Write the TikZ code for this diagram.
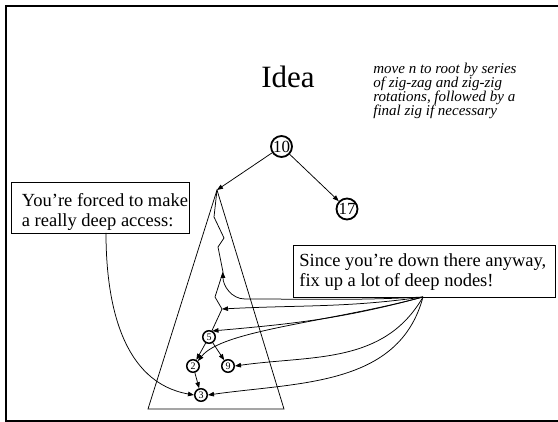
\documentclass[tikz,border=0pt]{standalone}
\usepackage{fontspec}
\setmainfont{Liberation Serif}
\usetikzlibrary{arrows.meta}
\begin{document}
\begin{tikzpicture}[x=1pt,y=1pt,line width=0.75pt,
  tip/.style={-{Triangle[length=6pt,width=4.5pt]}},
  bigc/.style={circle,draw,line width=1.8pt,inner sep=0pt,minimum size=21pt,font=\fontsize{17}{17}\selectfont},
  smc/.style={circle,draw,line width=1.5pt,inner sep=0pt,minimum size=12.5pt,font=\fontsize{10}{10}\selectfont},
  boxr/.style={draw,line width=0.8pt,anchor=north west,inner sep=0pt},
  boxt/.style={anchor=base west,inner sep=0pt,align=left,font=\fontsize{18.5}{20}\selectfont},
  frame/.style={line width=2pt}
]
\useasboundingbox (0,0) rectangle (558,-422);
% slide frame
\draw[frame] (6.3,-422) -- (6.3,-5.7) -- (558,-5.7);
\draw[frame] (5.3,-421) -- (558,-421);

% title and note
\node[anchor=base,inner sep=0pt,font=\fontsize{31}{31}\selectfont] (title) at (288,-88) {Idea};
\node[anchor=base west,inner sep=0pt,align=left,font=\fontsize{15}{14.3}\selectfont\itshape] (idea) at (373,-116) {move n to root by series\\of zig-zag and zig-zig\\rotations, followed by a\\final zig if necessary};

% upper tree
\node[bigc] (n10) at (281.5,-146.5) {10};
\node[bigc] (n17) at (347,-209) {17};
\coordinate (apex) at (217,-190);
\coordinate (bl) at (148,-409);
\coordinate (br) at (284,-409);
\draw[tip] (n10) -- (apex);
\draw[tip] (n10) -- (n17);
\draw (apex) -- (bl) -- (br) -- cycle;

% lower nodes
\node[smc] (n5) at (209,-337) {5};
\node[smc] (n2) at (193,-366) {2};
\node[smc] (n9) at (228,-366) {9};
\node[smc] (n3) at (201,-395) {3};
\draw[tip] (n5) -- (n2);
\draw[tip] (n5) -- (n9);
\draw[tip] (n2) -- (n3);

% zig-zag access path
\coordinate (z1) at (214,-217);
\coordinate (z2) at (224,-238);
\coordinate (z3) at (218,-247);
\coordinate (z4) at (223,-272);
\coordinate (z5) at (215,-297);
\coordinate (z6) at (222,-309);
\draw (apex) -- (z1) -- (z2) -- (z3) -- (z4) -- (z5) -- (z6) -- (n5);

% boxes
\node[boxr,minimum width=178pt,minimum height=51pt] (forced) at (11,-182) {};
\node[boxt] (forcedt) at (21.5,-227) {You’re forced to make\\a really deep access:};
\node[boxr,minimum width=262pt,minimum height=52pt] (since) at (293,-245) {};
\node[boxt] (sincet) at (299,-287) {Since you’re down there anyway,\\fix up a lot of deep nodes!};

\coordinate (fix) at (423,-297);
\coordinate (fb) at (106,-233);
\coordinate (bend) at (245,-299);

% connectors
\draw[tip] (fb) to[out=-90,in=170] (n3.west);
\draw[tip] (fix) to[out=183,in=0] (bend) to[out=180,in=-90] (z4);
\draw[tip] (fix) to[out=188,in=3] (z6);
\draw[tip] (fix) to[out=195,in=5] (n5.60);
\draw[tip] (fix) .. controls (330,-322) and (222,-330) .. (n2.north east);
\draw[tip] (fix) to[out=240,in=8] (n9.east);
\draw[tip] (fix) to[out=255,in=8] (n3.east);
\end{tikzpicture}
\end{document}
